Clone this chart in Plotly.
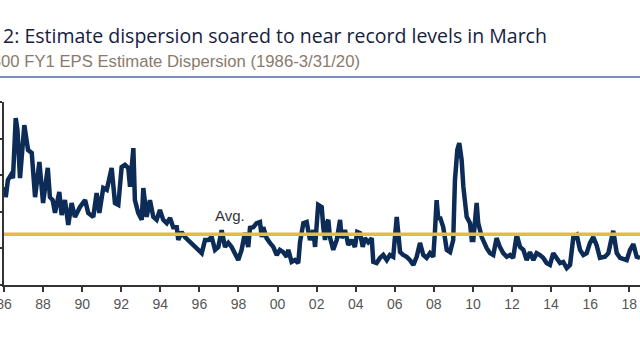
import plotly.graph_objects as go

# Decimal-year positions and dispersion values
years = [1986.05, 1986.09, 1986.20, 1986.36, 1986.46, 1986.60, 1986.69, 1986.82, 1987.04, 1987.23,
         1987.42, 1987.59, 1987.81, 1988.00, 1988.24, 1988.35, 1988.49, 1988.61, 1988.83, 1988.95,
         1989.12, 1989.29, 1989.46, 1989.63, 1989.89, 1990.15, 1990.31, 1990.57, 1990.74, 1990.88,
         1991.08, 1991.26, 1991.51, 1991.68, 1991.85, 1992.02, 1992.19, 1992.36, 1992.45, 1992.62,
         1992.70, 1992.87, 1993.05, 1993.13, 1993.30, 1993.47, 1993.64, 1993.81, 1993.98, 1994.15,
         1994.33, 1994.50, 1994.66, 1994.84, 1994.92, 1995.09, 1995.26, 1995.43, 1995.61, 1995.77,
         1995.94, 1996.12, 1996.29, 1996.46, 1996.63, 1996.80, 1996.97, 1997.14, 1997.31, 1997.48,
         1997.65, 1997.82, 1997.99, 1998.16, 1998.33, 1998.50, 1998.59, 1998.76, 1998.93, 1999.10,
         1999.19, 1999.27, 1999.44, 1999.61, 1999.78, 1999.96, 2000.12, 2000.29, 2000.47, 2000.55,
         2000.72, 2000.89, 2001.06, 2001.15, 2001.32, 2001.49, 2001.57, 2001.66, 2001.83, 2001.92,
         2002.08, 2002.26, 2002.34, 2002.43, 2002.51, 2002.60, 2002.68, 2002.85, 2003.03, 2003.20,
         2003.28, 2003.45, 2003.62, 2003.79, 2003.96, 2004.08, 2004.22, 2004.36, 2004.47, 2004.64,
         2004.82, 2004.90, 2005.07, 2005.24, 2005.41, 2005.59, 2005.75, 2005.92, 2006.10, 2006.18,
         2006.27, 2006.43, 2006.61, 2006.78, 2006.95, 2007.12, 2007.29, 2007.46, 2007.63, 2007.80,
         2007.97, 2008.06, 2008.14, 2008.23, 2008.31, 2008.48, 2008.57, 2008.66, 2008.83, 2008.99,
         2009.08, 2009.20, 2009.30, 2009.42, 2009.51, 2009.68, 2009.85, 2009.94, 2010.02, 2010.19,
         2010.27, 2010.45, 2010.70, 2010.87, 2011.04, 2011.21, 2011.38, 2011.55, 2011.73, 2011.90,
         2012.06, 2012.24, 2012.41, 2012.58, 2012.75, 2012.92, 2013.09, 2013.26, 2013.43, 2013.60,
         2013.77, 2013.94, 2014.11, 2014.29, 2014.46, 2014.62, 2014.80, 2014.97, 2015.14, 2015.31,
         2015.48, 2015.65, 2015.82, 2015.99, 2016.16, 2016.33, 2016.50, 2016.76, 2016.93, 2017.18,
         2017.36, 2017.53, 2017.87, 2018.04, 2018.21, 2018.38, 2018.55]

dispersion = [2.68, 2.40, 2.87, 3.01, 2.92, 4.56, 4.23, 2.92, 4.37, 3.69,
              3.61, 2.40, 3.36, 2.24, 3.20, 2.40, 2.32, 1.97, 2.54, 1.91,
              2.32, 1.64, 2.24, 1.86, 2.13, 2.32, 1.97, 1.86, 2.51, 1.97,
              2.65, 2.60, 3.20, 2.24, 2.19, 3.22, 3.28, 3.20, 2.68, 3.74,
              2.32, 1.97, 1.78, 2.65, 1.86, 2.32, 1.86, 1.78, 2.05, 1.78,
              1.69, 1.83, 1.58, 1.58, 1.23, 1.45, 1.31, 1.23, 1.15, 1.04,
              0.96, 0.87, 1.23, 1.23, 1.31, 0.96, 1.04, 1.50, 1.04, 1.15,
              1.04, 0.87, 0.68, 0.96, 1.42, 1.04, 1.56, 1.58, 1.69, 1.72,
              1.31, 1.58, 1.28, 1.15, 1.04, 0.82, 0.96, 0.90, 0.77, 0.96,
              0.63, 0.68, 0.60, 1.17, 1.69, 1.72, 1.42, 1.23, 1.50, 1.04,
              2.19, 2.13, 1.58, 1.23, 1.69, 1.78, 1.31, 0.96, 1.23, 1.78,
              1.28, 1.50, 1.09, 1.23, 1.04, 1.45, 1.42, 1.04, 1.28, 1.17,
              1.28, 0.63, 0.60, 0.74, 0.82, 0.68, 0.82, 0.77, 1.86, 1.42,
              0.90, 0.82, 0.77, 0.68, 0.55, 0.77, 1.15, 0.82, 0.74, 0.87,
              0.77, 1.50, 2.32, 1.78, 1.86, 1.58, 1.31, 0.96, 0.90, 1.23,
              2.87, 3.69, 3.88, 3.42, 2.68, 1.86, 1.69, 1.23, 1.23, 2.24,
              1.69, 1.31, 1.01, 0.87, 0.82, 1.28, 1.04, 0.87, 0.77, 0.82,
              0.74, 1.37, 1.04, 0.96, 0.68, 0.90, 0.68, 0.87, 0.82, 0.74,
              0.60, 0.55, 0.87, 0.74, 0.60, 0.63, 0.46, 0.55, 1.31, 1.37,
              0.96, 0.82, 0.87, 1.15, 1.31, 1.09, 0.74, 0.77, 0.87, 1.48,
              0.87, 0.74, 0.68, 0.96, 1.12, 0.77, 0.74]

average = 1.39

tick_years = [1986, 1988, 1990, 1992, 1994, 1996, 1998, 2000, 2002, 2004,
              2006, 2008, 2010, 2012, 2014, 2016, 2018]
tick_labels = ["86", "88", "90", "92", "94", "96", "98", "00", "02", "04",
               "06", "08", "10", "12", "14", "16", "18"]

title_text = "Chart 2: Estimate dispersion soared to near record levels in March"
subtitle_text = "S&P 500 FY1 EPS Estimate Dispersion (1986-3/31/20)"

fig = go.Figure()
fig.add_trace(go.Scatter(x=years, y=dispersion, mode="lines",
                         line=dict(color="#0d2b57", width=4.5), hoverinfo="skip"))

fig.add_shape(type="line", xref="paper", x0=0, x1=1, yref="y", y0=average, y1=average,
              line=dict(color="#e5b94c", width=3.5), layer="above")

fig.add_annotation(x=1996.7, y=1.89, xref="x", yref="y", text="Avg.", showarrow=False,
                   xanchor="left", yanchor="middle",
                   font=dict(family="Liberation Sans, Arial", size=15, color="#333333"))

# Title and subtitle (cropped at left in the reference)
fig.add_annotation(x=549, y=35, xref="paper", yref="paper", text=title_text, showarrow=False,
                   xanchor="right", yanchor="middle",
                   font=dict(family="Open Sans", size=19.5, color="#16213e"))
fig.add_annotation(x=362, y=62, xref="paper", yref="paper", text=subtitle_text, showarrow=False,
                   xanchor="right", yanchor="middle",
                   font=dict(family="Liberation Sans, Arial", size=16.7, color="#8a7a6c"))

fig.update_layout(
    width=640, height=360,
    margin=dict(l=4, r=0, t=102, b=75, autoexpand=False),
    paper_bgcolor="white", plot_bgcolor="white",
    showlegend=False,
    xaxis=dict(range=[1986, 2018.55], tickvals=tick_years, ticktext=tick_labels,
               automargin=False, ticklabeloverflow="allow",
               showgrid=False, zeroline=False, showline=True, linecolor="#333333", linewidth=1.5,
               ticks="outside", ticklen=5, tickwidth=1.5, tickcolor="#333333",
               tickfont=dict(family="Liberation Sans, Arial", size=14, color="#555555")),
    yaxis=dict(range=[0, 5], dtick=1, showticklabels=False, automargin=False,
               showgrid=False, zeroline=False, showline=True, linecolor="#333333", linewidth=1.5,
               ticks="outside", ticklen=4, tickwidth=1.5, tickcolor="#333333"),
)

# Paper-pixel conversion for title annotations and separator line
W, H = 640, 360
pw = W - 4 - 0
ph = H - 102 - 75
for ann in fig.layout.annotations:
    if ann.xref == "paper":
        ann.x = (ann.x - 4) / pw
        ann.y = 1 - (ann.y - 102) / ph

fig.add_shape(type="line", xref="paper", yref="paper",
              x0=(0 - 4) / pw, x1=(640 - 4) / pw,
              y0=1 - (77 - 102) / ph, y1=1 - (77 - 102) / ph,
              line=dict(color="#7890bb", width=2))

fig.write_html("out.html", config={"displayModeBar": False},
               post_script="document.body.style.margin='0';document.body.style.overflow='hidden';")
